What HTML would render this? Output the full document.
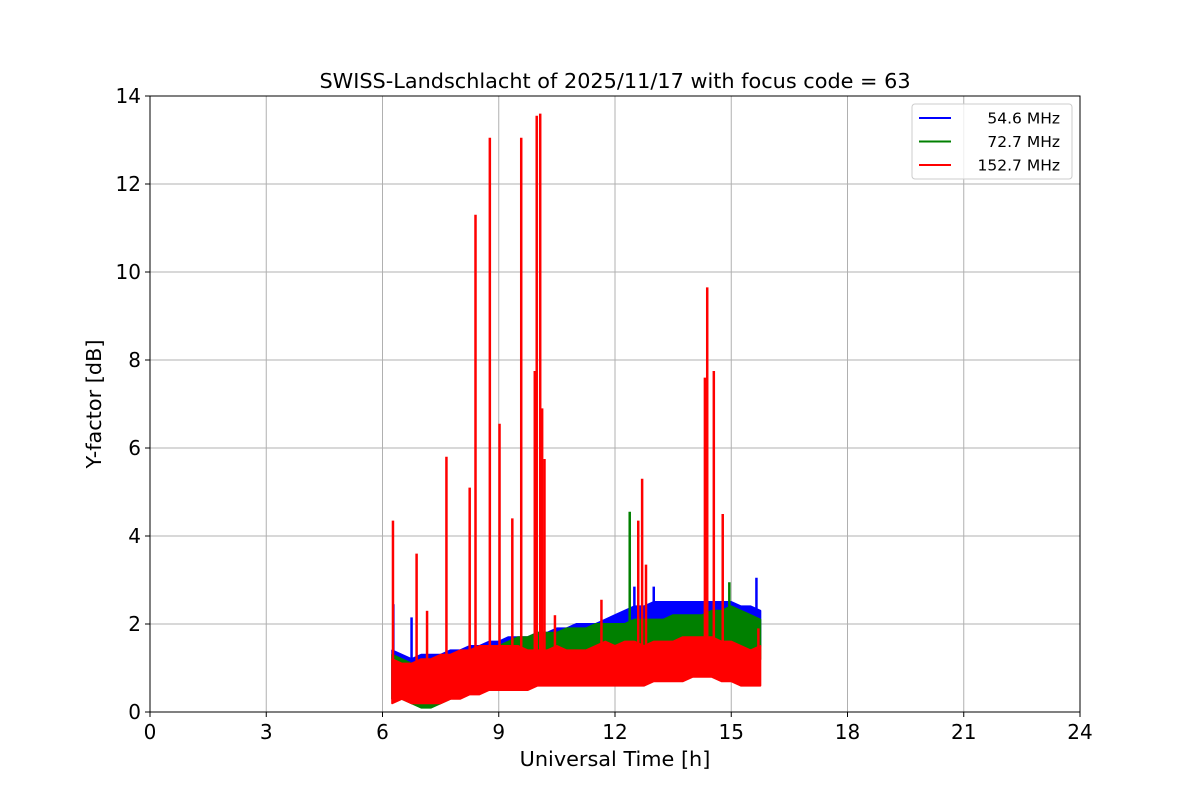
<!DOCTYPE html>
<html><head><meta charset="utf-8"><style>
body{margin:0;background:#fff;font-family:"Liberation Sans","DejaVu Sans",sans-serif}
svg text{font-family:"DejaVu Sans","Liberation Sans",sans-serif}
</style></head><body>
<svg id="chart" width="1200" height="800" xmlns="http://www.w3.org/2000/svg">
<rect width="1200" height="800" fill="#fff"/>
<g id="grid"></g><g id="series"></g><g id="axes"></g>
</svg>
<script>
const t0 = 6.25, dt = 0.25;
const blueLow  = [0.3,0.5,0.5,0.4,0.4,0.5,0.5,0.6,0.7,0.7,0.8,0.9,0.9,1.0,1.0,1.1,1.2,1.2,1.2,1.3,1.3,1.3,1.4,1.4,1.5,1.5,1.5,1.6,1.6,1.6,1.7,1.7,1.7,1.7,1.7,1.6,1.6,1.6,1.5];
const blueHigh = [1.4,1.3,1.2,1.3,1.3,1.3,1.4,1.4,1.5,1.5,1.6,1.6,1.7,1.7,1.7,1.8,1.8,1.9,1.9,2.0,2.0,2.0,2.1,2.2,2.3,2.4,2.4,2.5,2.5,2.5,2.5,2.5,2.5,2.5,2.5,2.5,2.4,2.4,2.3];
const blueSpikeT = [6.28,6.75,12.5,13.0,15.65];
const blueSpikeV = [2.45,2.15,2.85,2.85,3.05];
const greenLow  = [0.3,0.3,0.2,0.1,0.1,0.2,0.3,0.4,0.5,0.6,0.6,0.7,0.8,0.8,0.9,0.9,1.0,1.0,1.1,1.1,1.1,1.2,1.2,1.2,1.2,1.2,1.2,1.3,1.3,1.3,1.3,1.3,1.3,1.3,1.3,1.3,1.3,1.2,1.2];
const greenHigh = [1.3,1.2,1.1,1.1,1.1,1.2,1.2,1.3,1.3,1.4,1.5,1.5,1.6,1.7,1.7,1.8,1.8,1.8,1.9,1.9,1.9,2.0,2.0,2.0,2.0,2.1,2.1,2.1,2.1,2.2,2.2,2.2,2.2,2.3,2.3,2.4,2.3,2.2,2.1];
const greenSpikeT = [12.38,14.95];
const greenSpikeV = [4.55,2.95];
const redLow  = [0.2,0.3,0.2,0.2,0.2,0.2,0.3,0.3,0.4,0.4,0.5,0.5,0.5,0.5,0.5,0.6,0.6,0.6,0.6,0.6,0.6,0.6,0.6,0.6,0.6,0.6,0.6,0.7,0.7,0.7,0.7,0.8,0.8,0.8,0.7,0.7,0.6,0.6,0.6];
const redHigh = [1.2,1.1,1.1,1.2,1.2,1.3,1.3,1.4,1.4,1.5,1.5,1.5,1.5,1.5,1.4,1.4,1.4,1.5,1.4,1.4,1.4,1.5,1.6,1.5,1.6,1.6,1.5,1.6,1.6,1.6,1.7,1.7,1.7,1.7,1.6,1.6,1.5,1.4,1.5];
const redSpikeT = [6.27,6.88,7.15,7.65,8.25,8.4,8.77,9.02,9.35,9.58,9.93,9.98,10.07,10.12,10.18,10.45,11.65,12.6,12.7,12.8,14.32,14.38,14.55,14.78,15.7];
const redSpikeV = [4.35,3.6,2.3,5.8,5.1,11.3,13.05,6.55,4.4,13.05,7.75,13.55,13.6,6.9,5.75,2.2,2.55,4.35,5.3,3.35,7.6,9.65,7.75,4.5,1.9];
const xTicks = [0,3,6,9,12,15,18,21,24];
const yTicks = [0,2,4,6,8,10,12,14];
const legendLabels = ["  54.6 MHz","  72.7 MHz","152.7 MHz"];

const X0=150,X1=1080,Y0=712,Y1=96;
const xs = v => X0 + (v/24)*(X1-X0);
const ys = v => Y0 - (v/14)*(Y0-Y1);
const NS="http://www.w3.org/2000/svg";
function mk(tag, attrs, parent){const e=document.createElementNS(NS,tag);for(const k in attrs)e.setAttribute(k,attrs[k]);parent.appendChild(e);return e;}
const grid=document.getElementById('grid'), ser=document.getElementById('series'), ax=document.getElementById('axes');

xTicks.forEach(v=>{const l=mk('line',{x1:xs(v),x2:xs(v),y1:Y1,y2:Y0,stroke:'#b0b0b0','stroke-width':1},grid);

});
yTicks.forEach(v=>{const l=mk('line',{x1:X0,x2:X1,y1:ys(v),y2:ys(v),stroke:'#b0b0b0','stroke-width':1},grid);

});

function drawSeries(name,color,low,high,sT,sV){
  const g=mk('g',{},ser);
  
  
  let pts=[];
  high.forEach((v,i)=>pts.push(xs(t0+i*dt)+','+ys(v)));
  for(let i=low.length-1;i>=0;i--)pts.push(xs(t0+i*dt)+','+ys(low[i]));
  const p=mk('polygon',{points:pts.join(' '),fill:color,stroke:color,'stroke-width':2,'stroke-linejoin':'round'},g);
  
  
  sT.forEach((t,i)=>{const l=mk('line',{x1:xs(t),x2:xs(t),y1:ys(1.0),y2:ys(sV[i]),stroke:color,'stroke-width':2.5},g);
  
  });
}
drawSeries('blue-54-6mhz','#0000ff',blueLow,blueHigh,blueSpikeT,blueSpikeV);
drawSeries('green-72-7mhz','#008000',greenLow,greenHigh,greenSpikeT,greenSpikeV);
drawSeries('red-152-7mhz','#ff0000',redLow,redHigh,redSpikeT,redSpikeV);

const frame=mk('rect',{x:X0,y:Y1,width:X1-X0,height:Y0-Y1,fill:'none',stroke:'#000','stroke-width':1},ax);


xTicks.forEach(v=>{mk('line',{x1:xs(v),x2:xs(v),y1:Y0,y2:Y0+5,stroke:'#000'},ax);
const t=mk('text',{x:xs(v),y:Y0+27,'text-anchor':'middle','font-size':20},ax);t.textContent=v;

});
yTicks.forEach(v=>{mk('line',{x1:X0-5,x2:X0,y1:ys(v),y2:ys(v),stroke:'#000'},ax);
const t=mk('text',{x:X0-9,y:ys(v)+7,'text-anchor':'end','font-size':20},ax);t.textContent=v;

});

const title=mk('text',{x:615,y:88,'text-anchor':'middle','font-size':20.8},ax);title.textContent='SWISS-Landschlacht of 2025/11/17 with focus code = 63';


const xl=mk('text',{x:615,y:766,'text-anchor':'middle','font-size':20.8},ax);xl.textContent='Universal Time [h]';


const yl=mk('text',{x:101,y:404,'text-anchor':'middle','font-size':20.8,transform:'rotate(-90 101 404)'},ax);yl.textContent='Y-factor [dB]';



const lg=mk('g',{},ax);


mk('rect',{x:912,y:104,width:160,height:75,rx:3,fill:'#fff','fill-opacity':0.8,stroke:'#ccc'},lg);
const cols=['#0000ff','#008000','#ff0000'];
legendLabels.forEach((s,i)=>{const y=118+i*23.5;
const l=mk('line',{x1:919,x2:951,y1:y,y2:y,stroke:cols[i],'stroke-width':2},lg);


const t=mk('text',{x:1060,y:y+5.5,'text-anchor':'end','font-size':15.5,'xml:space':'preserve'},lg);t.textContent=s;

});
</script>
</body></html>
